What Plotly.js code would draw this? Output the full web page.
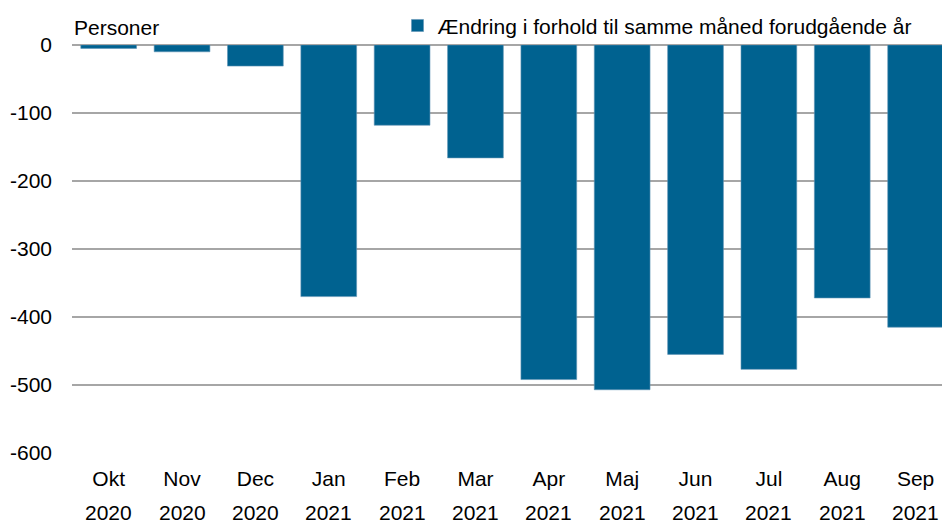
<!DOCTYPE html>
<html>
<head>
<meta charset="utf-8">
<script src="https://cdn.plot.ly/plotly-3.0.1.min.js"></script>
<style>html,body{margin:0;padding:0;background:#fff;}#chart{width:942px;height:526px;}</style>
</head>
<body>
<div id="chart"></div>
<script>
var months = ["Okt","Nov","Dec","Jan","Feb","Mar","Apr","Maj","Jun","Jul","Aug","Sep"];
var years = ["2020","2020","2020","2021","2021","2021","2021","2021","2021","2021","2021","2021"];
var values = [-5, -10, -31, -370, -118, -166, -492, -507, -455, -477, -372, -415];
var seriesName = "Ændring i forhold til samme måned forudgående år";
var yTickVals = [0, -100, -200, -300, -400, -500, -600];
var yTickText = ["0", "-100", "-200", "-300", "-400", "-500", "-600"];
var yLabel = "Personer";

var font = {family: "Liberation Sans, Arial, sans-serif", size: 21, color: "#000"};

var yearAnnotations = months.map(function(m, i) {
  return {
    x: m, xref: "x", y: 0, yref: "paper",
    text: years[i], showarrow: false,
    xanchor: "center", yanchor: "middle", yshift: -59,
    font: font
  };
});

var trace = {
  type: "bar",
  x: months,
  y: values,
  name: seriesName,
  width: 0.76,
  marker: {color: "#006290", line: {color: "#5f93b5", width: 0.6}},
  showlegend: true,
  hoverinfo: "x+y"
};

var layout = {
  width: 942, height: 526,
  margin: {l: 72, r: 0, t: 45, b: 73},
  paper_bgcolor: "#fff", plot_bgcolor: "#fff",
  font: font,
  showlegend: true,
  legend: {
    x: 0.9707, xanchor: "right", y: 1.047, yanchor: "middle",
    font: font, bgcolor: "rgba(0,0,0,0)", itemwidth: 30,
    itemclick: false
  },
  xaxis: {
    type: "category",
    range: [-0.5, 11.36],
    showgrid: false, showline: false, zeroline: false,
    ticks: "", ticklabelstandoff: 11,
    tickfont: font, fixedrange: true
  },
  yaxis: {
    range: [-600, 0],
    tickvals: yTickVals, ticktext: yTickText,
    showgrid: true, gridcolor: "#a6a6a6", gridwidth: 1.3,
    zeroline: true, zerolinecolor: "#a6a6a6", zerolinewidth: 1.3,
    showline: false, ticks: "", ticklabelstandoff: 19,
    tickfont: font, fixedrange: true
  },
  annotations: [{
    x: 0, xref: "paper", y: 1, yref: "paper",
    xanchor: "left", yanchor: "middle", yshift: 18,
    text: yLabel, showarrow: false, font: font
  }].concat(yearAnnotations)
};

Plotly.newPlot("chart", [trace], layout, {displayModeBar: false, staticPlot: true});
</script>
</body>
</html>
